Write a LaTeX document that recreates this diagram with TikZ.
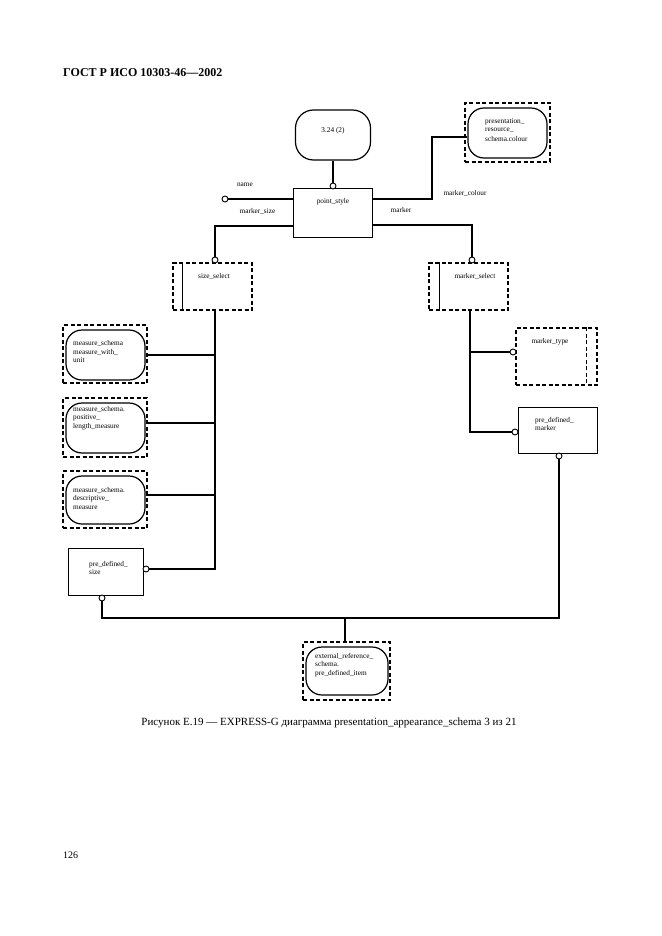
\documentclass[tikz,border=0pt]{standalone}
\usepackage{fontspec}
\setmainfont{Liberation Serif}
\usetikzlibrary{calc}
\tikzset{
  ln/.style={line width=1.1pt},
  thk/.style={line width=2.6pt},
  dbox/.style={draw, dashed, dash pattern=on 4pt off 2.5pt, line width=1.3pt, minimum width=#1},
  sbox/.style={draw, line width=1pt, inner sep=0pt},
  rbox/.style={draw, line width=1.2pt, rounded corners=16pt, inner sep=0pt},
  circ/.style={draw, circle, line width=0.9pt, fill=white, minimum size=6pt, inner sep=0pt},
  tx/.style={font=\fontsize{7.3}{8.5}\selectfont, inner sep=0pt},
  txl/.style={tx, align=left, anchor=west},
}
\begin{document}
\begin{tikzpicture}[x=1pt,y=-1pt]
\useasboundingbox (0,0) rectangle (661,936);
\fill[white] (0,0) rectangle (661,936);

% header, caption, page number
\node[inner sep=0pt, anchor=west, font=\fontsize{12}{14}\selectfont\bfseries] (hdr) at (63,73) {ГОСТ Р ИСО 10303-46---2002};
\node[inner sep=0pt, font=\fontsize{11}{13}\selectfont] (cap) at (329,723) {Рисунок E.19 --- EXPRESS-G диаграмма presentation\_appearance\_schema 3 из 21};
\node[inner sep=0pt, anchor=west, font=\fontsize{10}{12}\selectfont] (pg) at (63,855) {126};

% 3.24 (2)
\node[rbox, minimum width=75pt, minimum height=50pt, rounded corners=18pt] (ref) at (333,135) {};
\node[tx] (reft) at (333,131) {3.24 (2)};

% point_style
\node[sbox, minimum width=79pt, minimum height=49pt] (ps) at (332.5,212.5) {};
\node[tx] (pst) at (333,202) {point\_style};

% presentation_resource_schema.colour
\node[dbox=85pt, minimum height=59pt] (pro) at (507.5,132.5) {};
\node[rbox, minimum width=79pt, minimum height=50pt] (pri) at (507.5,133) {};
\node[txl] (prt) at (485,130) {presentation\_\\[-0.5pt]resource\_\\[1pt]schema.colour};

% size_select
\node[dbox=79pt, minimum height=47pt] (ss) at (212.5,286.5) {};
\draw[line width=1pt] ($(ss.north west)+(10,0)$) coordinate (ssa) -- (ssa |- ss.south);
\node[tx] (sst) at (214,276) {size\_select};

% marker_select
\node[dbox=79pt, minimum height=47pt] (msel) at (468.5,286.5) {};
\draw[line width=1pt] ($(msel.north west)+(11,0)$) coordinate (msa) -- (msa |- msel.south);
\node[tx] (mselt) at (475,276) {marker\_select};

% marker_type
\node[dbox=81pt, minimum height=57pt] (mt) at (556.5,356.5) {};
\draw[dashed, dash pattern=on 4pt off 2.5pt, line width=1.3pt] ($(mt.north east)+(-11,0)$) coordinate (mta) -- (mta |- mt.south);
\node[tx] (mtt) at (550,342) {marker\_type};

% pre_defined_marker
\node[sbox, minimum width=79pt, minimum height=46pt] (pdm) at (557.5,430) {};
\node[txl] (pdmt) at (535,424) {pre\_defined\_\\marker};

% measure schema boxes
\node[dbox=84pt, minimum height=58pt] (m1o) at (105,354) {};
\node[rbox, minimum width=79pt, minimum height=50pt] (m1) at (105.5,355) {};
\node[txl] (m1t) at (73,352) {measure\_schema\\measure\_with\_\\unit};

\node[dbox=84pt, minimum height=59pt] (m2o) at (105,427.5) {};
\node[rbox, minimum width=79pt, minimum height=50pt] (m2) at (105.5,428) {};
\node[txl] (m2t) at (73,418) {measure\_schema.\\positive\_\\length\_measure};

\node[dbox=84pt, minimum height=57pt] (m3o) at (105,499.5) {};
\node[rbox, minimum width=79pt, minimum height=48pt] (m3) at (105.5,500) {};
\node[txl] (m3t) at (73,498) {measure\_schema.\\descriptive\_\\measure};

% pre_defined_size
\node[sbox, minimum width=75pt, minimum height=47pt] (pds) at (105.5,571.5) {};
\node[txl] (pdst) at (89,568) {pre\_defined\_\\size};

% external_reference_schema.pre_defined_item
\node[dbox=87pt, minimum height=58pt] (exo) at (346.5,671) {};
\node[rbox, minimum width=82pt, minimum height=48pt] (ex) at (347,671) {};
\node[txl] (ext) at (315,665) {external\_reference\_\\schema.\\pre\_defined\_item};

% circles
\node[circ] (cps) at (333,186) {};
\node[circ] (cname) at (225,199) {};
\node[circ] (css) at (215,260) {};
\node[circ] (cmsel) at (472,260) {};
\node[circ] (cmt) at (513,352) {};
\node[circ] (cpdm) at (515,432) {};
\node[circ] (cpdmb) at (559,456) {};
\node[circ] (cpds) at (146,569) {};
\node[circ] (cpdsb) at (102,598) {};

% labels
\node[tx] (lname) at (245,185) {name};
\node[tx] (lms) at (257.5,211.5) {marker\_size};
\node[tx] (lmk) at (401,210) {marker};
\node[tx] (lmc) at (465,193) {marker\_colour};

% connectors
\draw[ln] (ref.south) -- (cps.north);
\draw[ln] (cname.east) -- (cname.east -| ps.west);
\draw[ln] (ps.west |- 0,226) -| (css.north);
\draw[ln] (ps.east |- 0,199) -| (432,137) -- (pri.west |- 0,137);
\draw[ln] (ps.east |- 0,225) -| (cmsel.north);

\draw[ln] (ss.south -| css) -- (215,569) -- (cpds.east);
\draw[ln] (m1.east) -- (m1.east -| css);
\draw[ln] (m2.east |- 0,423) -- (215,423);
\draw[ln] (m3.east |- 0,495) -- (215,495);

\draw[ln] (msel.south -| 470,0) -- (470,432) -- (cpdm.west);
\draw[ln] (470,352) -- (cmt.west);

\draw[thk] (cpdsb.south) -- (102,618) -- (559,618) -- (cpdmb.south);
\draw[thk] (345,618) -- (exo.north -| 345,0);
\end{tikzpicture}
\end{document}
